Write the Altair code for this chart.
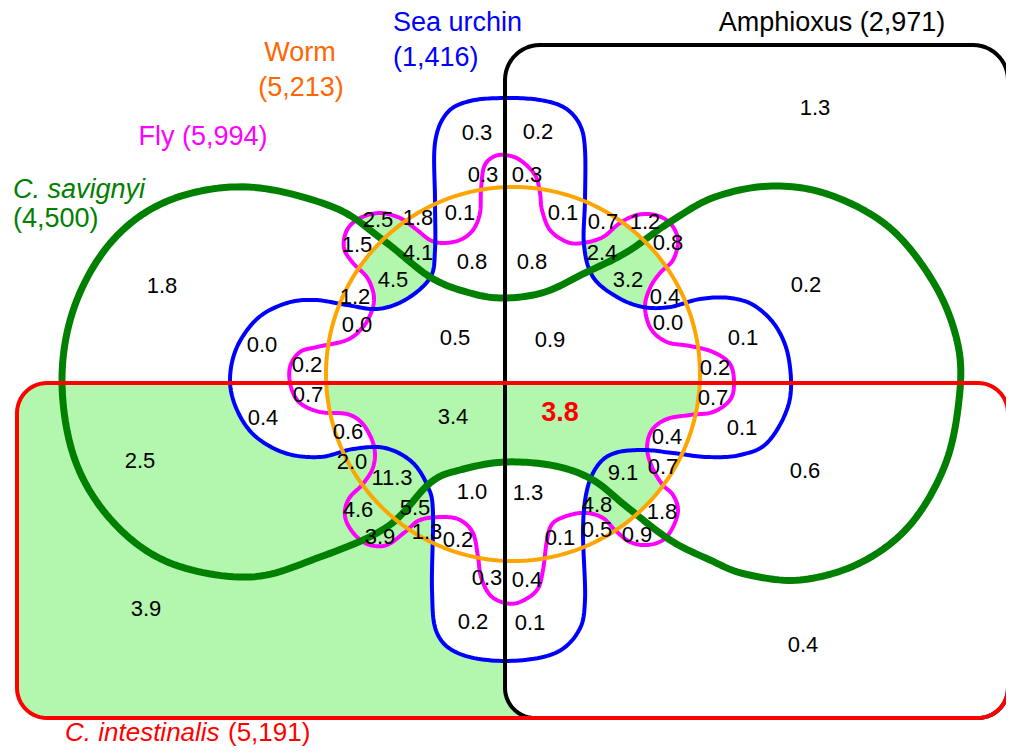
import altair as alt
import numpy as np
import pandas as pd
from collections import deque

# ---------------- data ----------------
set_names = ["Amphioxus", "Sea urchin", "Worm", "Fly", "C. savignyi", "C. intestinalis"]
set_counts = ["2,971", "1,416", "5,213", "5,994", "4,500", "5,191"]

region_values = ["1.3", "0.3", "0.2", "0.3", "0.3",
                 "2.5", "1.8", "0.1", "0.1", "0.7", "1.2",
                 "1.5", "4.1", "0.8", "0.8", "2.4", "0.8",
                 "4.5", "3.2", "1.8", "0.2", "1.2", "0.4",
                 "0.0", "0.0", "0.0", "0.5", "0.9", "0.1",
                 "0.2", "0.2", "0.7", "0.7",
                 "0.4", "3.4", "3.8", "0.1", "0.6", "0.4",
                 "2.5", "0.6", "2.0", "11.3", "1.0", "1.3", "9.1", "0.7",
                 "4.6", "5.5", "4.8", "1.8",
                 "3.9", "1.3", "0.2", "0.1", "0.5", "0.9",
                 "0.3", "0.4", "0.2", "0.1", "3.9", "0.4"]
# label anchor positions (picture coordinates)
region_x = [815, 477, 538, 483, 527,
            378, 418, 460, 563, 603, 645,
            357, 418, 472, 532, 602, 668,
            393, 628, 162, 806, 355, 665,
            357, 668, 262, 455, 550, 743,
            307, 715, 308, 713,
            263, 453, 560, 742, 348, 667,
            140, 805, 352, 392, 472, 528, 623, 663,
            358, 415, 597, 662,
            380, 427, 458, 560, 597, 637,
            487, 527, 473, 530, 146, 803]
region_y = [108, 133, 132, 175, 175,
            220, 218, 213, 213, 222, 222,
            245, 253, 262, 262, 253, 243,
            280, 280, 286, 285, 297, 297,
            325, 323, 345, 338, 340, 338,
            365, 368, 395, 398,
            418, 417, 413, 428, 432, 437,
            461, 471, 462, 478, 492, 493, 473, 467,
            510, 508, 505, 512,
            537, 532, 540, 538, 530, 535,
            578, 580, 622, 623, 609, 645]
# regions drawn on a green background
region_shaded = [0, 0, 0, 0, 0,
                 1, 0, 0, 0, 0, 0,
                 0, 1, 0, 0, 1, 0,
                 1, 1, 0, 0, 0, 0,
                 0, 0, 0, 0, 0, 0,
                 0, 0, 0, 0,
                 0, 1, 1, 0, 0, 0,
                 1, 0, 1, 1, 0, 0, 1, 0,
                 1, 1, 1, 0,
                 1, 1, 0, 0, 0, 0,
                 0, 0, 0, 0, 1, 0]
highlight_value = "3.8"

# ---------------- shape outlines (control points, picture coords) ----------------
savignyi_pts = [(62, 380), (75, 305), (113, 240), (170, 200), (248, 187), (333, 207),
                (383, 240), (430, 277), (470, 293), (505, 298), (545, 292), (585, 273),
                (627, 252), (670, 222), (715, 197), (772, 186), (830, 195), (890, 228),
                (935, 285), (958, 345), (959, 400), (945, 465), (910, 525), (860, 563),
                (800, 580), (745, 574), (710, 560), (670, 540), (627, 507), (593, 480),
                (555, 466), (505, 462), (460, 470), (430, 483), (387, 527), (320, 557),
                (250, 577), (170, 563), (113, 522), (75, 460)]
urchin_pts = [(435, 143), (447, 113), (470, 101), (505, 98), (540, 100), (565, 108),
              (580, 125), (585, 150), (585, 200), (584, 245), (593, 277), (617, 297),
              (643, 307), (670, 307), (700, 299), (730, 298), (755, 306), (777, 328),
              (789, 360), (789, 403), (768, 442), (740, 455), (707, 457), (673, 453),
              (643, 450), (615, 453), (598, 465), (587, 490), (583, 530), (585, 600),
              (578, 632), (553, 654), (505, 661), (460, 654), (437, 633), (432, 590),
              (433, 513), (428, 487), (412, 462), (385, 448), (353, 449), (320, 457),
              (285, 453), (255, 436), (237, 410), (230, 380), (237, 347), (258, 318),
              (287, 303), (315, 300), (347, 305), (377, 309), (405, 300), (430, 278),
              (435, 250), (435, 200)]
fly_pts = [(505, 155), (520, 160), (535, 175), (540, 193), (542, 210), (550, 230),
           (567, 242), (583, 243), (603, 237), (620, 223), (637, 215), (655, 215),
           (670, 223), (678, 240), (673, 260), (660, 273), (650, 288), (645, 307),
           (651, 329), (667, 342), (690, 346), (713, 352), (730, 364), (734, 383),
           (730, 400), (713, 412), (690, 415), (667, 419), (652, 430), (647, 448),
           (652, 467), (662, 484), (673, 495), (678, 510), (673, 527), (663, 540),
           (647, 545), (630, 542), (615, 530), (603, 518), (587, 513), (570, 515),
           (553, 523), (547, 540), (543, 570), (537, 590), (520, 602), (505, 603),
           (490, 595), (481, 577), (478, 557), (473, 533), (460, 520), (443, 517),
           (420, 520), (405, 532), (387, 545), (370, 545), (357, 537), (347, 523),
           (345, 510), (350, 497), (362, 485), (372, 470), (375, 455), (372, 440),
           (362, 423), (347, 414), (320, 412), (300, 403), (291, 387), (290, 367),
           (300, 352), (317, 347), (347, 340), (363, 327), (371, 313), (374, 300),
           (372, 288), (366, 276), (353, 263), (344, 248), (347, 230), (360, 218),
           (380, 213), (400, 218), (417, 230), (430, 240), (443, 243), (460, 240),
           (473, 230), (480, 213), (481, 190), (484, 167), (493, 157)]
worm_circle = (513, 374, 187)
amphioxus_box = (505, 45, 1008, 718, 35, 30)
intestinalis_box = (17, 383, 1008, 718, 30, 30)


def catmull_closed(pts, k=14):
    P = np.array(pts, float)
    n = len(P)
    out = []
    for i in range(n):
        p0, p1, p2, p3 = P[(i - 1) % n], P[i], P[(i + 1) % n], P[(i + 2) % n]
        for t in np.linspace(0, 1, k, endpoint=False):
            t2, t3 = t * t, t * t * t
            out.append(0.5 * (2 * p1 + (-p0 + p2) * t + (2 * p0 - 5 * p1 + 4 * p2 - p3) * t2
                              + (-p0 + 3 * p1 - 3 * p2 + p3) * t3))
    return np.array(out)


def circle_outline(c, k=240):
    cx, cy, r = c
    a = np.linspace(0, 2 * np.pi, k, endpoint=False)
    return np.column_stack([cx + r * np.cos(a), cy + r * np.sin(a)])


def rounded_box(b, k=14):
    x0, y0, x1, y1, rt, rb = b
    pts = []
    for cx, cy, r, a0 in [(x0 + rt, y0 + rt, rt, 180), (x1 - rt, y0 + rt, rt, 270),
                          (x1 - rb, y1 - rb, rb, 0), (x0 + rb, y1 - rb, rb, 90)]:
        for a in np.radians(np.linspace(a0, a0 + 90, k)):
            pts.append((cx + r * np.cos(a), cy + r * np.sin(a)))
    return np.array(pts)


shapes = {
    "A": rounded_box(amphioxus_box),
    "U": catmull_closed(urchin_pts),
    "W": circle_outline(worm_circle),
    "F": catmull_closed(fly_pts),
    "S": catmull_closed(savignyi_pts),
    "R": rounded_box(intestinalis_box),
}

# ---------------- shaded background (scanline fill of the seeded regions) ----------------
STEP = 2
gx = np.arange(8, 1006, STEP) + STEP / 2
gy = np.arange(8, 747, STEP) + STEP / 2
GX, GY = np.meshgrid(gx, gy)


def inside(poly, X, Y):
    res = np.zeros(X.shape, bool)
    xs, ys = poly[:, 0], poly[:, 1]
    xp, yp = np.roll(xs, 1), np.roll(ys, 1)
    for xi, yi, xj, yj in zip(xs, ys, xp, yp):
        if yi == yj:
            continue
        cond = (yi > Y) != (yj > Y)
        xint = (xj - xi) * (Y - yi) / (yj - yi) + xi
        res ^= cond & (X < xint)
    return res


sig = np.zeros(GX.shape, int)
for bit, key in enumerate(["A", "U", "W", "F", "S", "R"]):
    sig |= inside(shapes[key], GX, GY).astype(int) << bit

H, W = sig.shape
green = np.zeros(sig.shape, bool)
for sx, sy, sh in zip(region_x, region_y, region_shaded):
    if not sh:
        continue
    i = int((sx - 8) // STEP)
    j = int((sy - 8) // STEP)
    if green[j, i]:
        continue
    target = sig[j, i]
    dq = deque([(j, i)])
    green[j, i] = True
    while dq:
        cj, ci = dq.popleft()
        for nj, ni in ((cj + 1, ci), (cj - 1, ci), (cj, ci + 1), (cj, ci - 1)):
            if 0 <= nj < H and 0 <= ni < W and not green[nj, ni] and sig[nj, ni] == target:
                green[nj, ni] = True
                dq.append((nj, ni))

runs = []
for j in range(H):
    row = np.concatenate([[0], green[j].astype(int), [0]])
    d = np.diff(row)
    starts = np.where(d == 1)[0]
    ends = np.where(d == -1)[0]
    for s, e in zip(starts, ends):
        runs.append({"x": 8 + s * STEP, "x2": 8 + e * STEP,
                     "y": 8 + j * STEP, "y2": 8 + (j + 1) * STEP + 0.6})
fill_df = pd.DataFrame(runs)

# ---------------- chart ----------------
xs = alt.Scale(domain=[8, 1006], nice=False, zero=False)
ys = alt.Scale(domain=[747, 8], nice=False, zero=False)
X = alt.X("x:Q", scale=xs, axis=None)
Y = alt.Y("y:Q", scale=ys, axis=None)

layers = []
layers.append(alt.Chart(fill_df).mark_rect(fill="#b2f7ad", strokeWidth=0).encode(
    x=X, x2="x2:Q", y=Y, y2="y2:Q"))


def outline_layer(key, color, width):
    pts = shapes[key]
    pts = np.vstack([pts, pts[:1]])
    df = pd.DataFrame({"x": pts[:, 0], "y": pts[:, 1], "o": np.arange(len(pts))})
    return alt.Chart(df).mark_line(stroke=color, strokeWidth=width, strokeJoin="round",
                                   strokeCap="round").encode(x=X, y=Y, order="o:Q")


layers.append(outline_layer("F", "#ff00ff", 4))
layers.append(outline_layer("U", "#0000ff", 4))
layers.append(outline_layer("S", "#008000", 7))
layers.append(outline_layer("W", "#ffa500", 4))
layers.append(outline_layer("A", "#000000", 4))
layers.append(outline_layer("R", "#ff0000", 4))

lab = pd.DataFrame({"x": region_x, "y": region_y, "t": region_values})
is_hl = (lab.t == highlight_value) & (lab.x > 505) & (lab.y > 383) & (lab.y < 430)
normal = lab[~is_hl]
special = lab[is_hl]
layers.append(alt.Chart(normal).mark_text(font="Liberation Sans", fontSize=22, color="black",
                                          align="center", baseline="middle").encode(
    x=X, y=Y, text="t:N"))
layers.append(alt.Chart(special).mark_text(font="Liberation Sans", fontSize=27, fontWeight="bold",
                                           color="#ff0000", align="center", baseline="middle").encode(
    x=X, y=Y, text="t:N"))


def title(text, x, y, color, align="center", style="normal", baseline="middle", size=27):
    df = pd.DataFrame({"x": [x], "y": [y], "t": [text]})
    return alt.Chart(df).mark_text(font="Liberation Sans", fontSize=size, color=color, align=align,
                                   baseline=baseline, fontStyle=style).encode(x=X, y=Y, text="t:N")


layers += [
    title(f"{set_names[0]} ({set_counts[0]})", 832, 23, "#000000"),
    title(set_names[1], 393, 23, "#0000ff", "left"),
    title(f"({set_counts[1]})", 393, 58, "#0000ff", "left"),
    title(set_names[2], 300, 53, "#ff6600"),
    title(f"({set_counts[2]})", 301, 88, "#ff6600"),
    title(f"{set_names[3]} ({set_counts[3]})", 203, 137, "#ff00ff"),
    title(set_names[4], 13, 190, "#008000", "left", "italic"),
    title(f"({set_counts[4]})", 13, 219, "#008000", "left"),
    title(set_names[5], 65, 741, "#ff0000", "left", "italic", "alphabetic", 26),
    title(f"({set_counts[5]})", 228, 741, "#ff0000", "left", "normal", "alphabetic", 26),
]

chart = alt.layer(*layers).properties(
    width=998, height=739, autosize=alt.AutoSizeParams(type="none"), padding=0,
    background="white").configure_view(stroke=None)

chart.save("out.html", embed_options={"renderer": "svg", "actions": False})
